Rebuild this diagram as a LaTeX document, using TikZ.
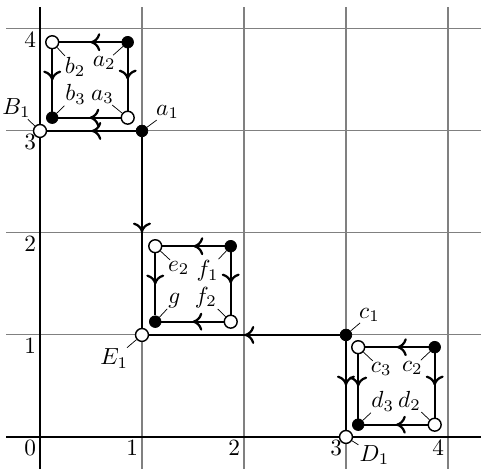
\documentclass[tikz,border=0pt]{standalone}
\usetikzlibrary{arrows.meta,decorations.markings}
\newcommand{\lblx}[1]{\scalebox{1.3}{$#1$}}
\tikzset{
  grd/.style={gray, line width=0.6pt},
  axisln/.style={line width=1.6pt},
  pth/.style={line width=1.25pt},
  midarr/.style={postaction={decorate},decoration={markings,mark=at position 0.5 with {\arrow{Computer Modern Rightarrow[length=5.5pt,width=10pt]}}}},
  fdot/.style={circle,fill=black,draw=black,inner sep=0pt,minimum size=6.5pt},
  odot/.style={circle,fill=white,draw=black,line width=0.8pt,inner sep=0pt,minimum size=7.2pt},
  ticklbl/.style={anchor=north east,inner sep=2pt},
  every pin/.style={inner sep=0.5pt},
  every pin edge/.style={black,line width=0.4pt},
  pin distance=6pt,
}
\begin{document}
\begin{tikzpicture}[x=2cm,y=2cm]
\useasboundingbox (-0.392,-0.314) rectangle (4.324,4.284);
% grid
\draw[grd,step=1] (-0.33,-0.32) grid (4.33,4.22);
\draw[axisln] (-0.33,0) -- (4.33,0);
\draw[axisln] (0,-0.32) -- (0,4.22);
% tick labels
\foreach \i in {0,1,2,3,4} \node[ticklbl] (tx\i) at (\i,0) {\lblx{\i}};
\foreach \i in {1,2,3,4} \node[ticklbl] (ty\i) at (0,\i) {\lblx{\i}};
% main nodes
\node[fdot,pin={40:\lblx{a_1}}] (a1) at (1,3) {};
\node[odot,pin={[pin distance=4pt]125:\lblx{B_1}}] (B1) at (0,3) {};
\node[odot,pin={-135:\lblx{E_1}}] (E1) at (1,1) {};
\node[fdot,pin={45:\lblx{c_1}}] (c1) at (3,1) {};
\node[odot,pin={[pin distance=4pt]-30:\lblx{D_1}}] (D1) at (3,0) {};
% square A
\node[odot,pin={-50:\lblx{b_2}}] (b2) at (0.12,3.87) {};
\node[fdot,pin={-130:\lblx{a_2}}] (a2) at (0.86,3.87) {};
\node[fdot,pin={45:\lblx{b_3}}] (b3) at (0.12,3.13) {};
\node[odot,pin={135:\lblx{a_3}}] (a3) at (0.86,3.13) {};
% square E
\node[odot,pin={-50:\lblx{e_2}}] (e2) at (1.13,1.87) {};
\node[fdot,pin={-130:\lblx{f_1}}] (f1) at (1.87,1.87) {};
\node[fdot,pin={45:\lblx{g}}] (g) at (1.13,1.13) {};
\node[odot,pin={135:\lblx{f_2}}] (f2) at (1.87,1.13) {};
% square C
\node[odot,pin={-50:\lblx{c_3}}] (c3) at (3.12,0.88) {};
\node[fdot,pin={-130:\lblx{c_2}}] (c2) at (3.87,0.88) {};
\node[fdot,pin={45:\lblx{d_3}}] (d3) at (3.12,0.12) {};
\node[odot,pin={135:\lblx{d_2}}] (d2) at (3.87,0.12) {};
% paths
\draw[pth,midarr] (a1) -- (B1);
\draw[pth,midarr] (a1) -- (E1);
\draw[pth,midarr] (c1) -- (E1);
\draw[pth,midarr] (c1) -- (D1);
\draw[pth,midarr] (a2) -- (b2);
\draw[pth,midarr] (a2) -- (a3);
\draw[pth,midarr] (b2) -- (b3);
\draw[pth,midarr] (a3) -- (b3);
\draw[pth,midarr] (f1) -- (e2);
\draw[pth,midarr] (f1) -- (f2);
\draw[pth,midarr] (e2) -- (g);
\draw[pth,midarr] (f2) -- (g);
\draw[pth,midarr] (c2) -- (c3);
\draw[pth,midarr] (c2) -- (d2);
\draw[pth,midarr] (c3) -- (d3);
\draw[pth,midarr] (d2) -- (d3);
\end{tikzpicture}
\end{document}
